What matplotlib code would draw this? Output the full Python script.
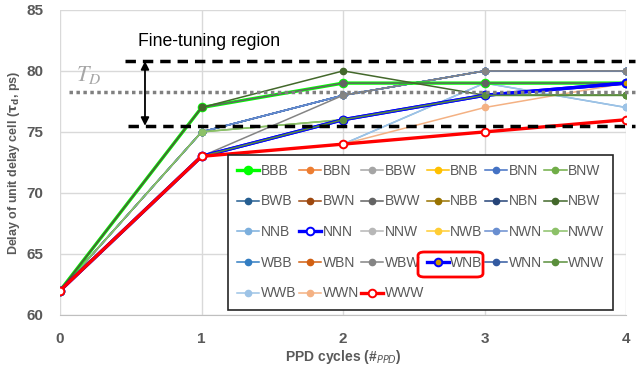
import matplotlib.pyplot as plt
from matplotlib.patches import FancyBboxPatch

# PPD cycles on the x axis
cycles = [0, 1, 2, 3, 4]

# legend order (row by row, as shown in the chart)
names = ['BBB', 'BBN', 'BBW', 'BNB', 'BNN', 'BNW',
         'BWB', 'BWN', 'BWW', 'NBB', 'NBN', 'NBW',
         'NNB', 'NNN', 'NNW', 'NWB', 'NWN', 'NWW',
         'WBB', 'WBN', 'WBW', 'WNB', 'WNN', 'WNW',
         'WWB', 'WWN', 'WWW']

colors = ['#00FF00', '#ED7D31', '#A5A5A5', '#FFC000', '#4472C4', '#70AD47',
          '#255E91', '#9E480E', '#636363', '#997300', '#264478', '#43682B',
          '#7CAFDD', '#0000FF', '#B7B7B7', '#FFCD33', '#698ED0', '#8CC168',
          '#327DC2', '#D26012', '#848484', '#0000FF', '#335AA1', '#5A8F3C',
          '#9DC3E6', '#F4B183', '#FF0000']

# delay of unit delay cell (ps) per series
delays = {
    'BBB': [62, 77, 79, 79, 79],
    'BBN': [62, 73, 74, 75, 76],
    'BBW': [62, 77, 79, 79, 79],
    'BNB': [62, 73, 76, 78, 79],
    'BNN': [62, 75, 78, 80, 80],
    'BNW': [62, 75, 76, 78, 78],
    'BWB': [62, 75, 78, 80, 80],
    'BWN': [62, 73, 74, 75, 76],
    'BWW': [62, 77, 79, 79, 79],
    'NBB': [62, 73, 76, 78, 79],
    'NBN': [62, 75, 78, 80, 80],
    'NBW': [62, 77, 80, 78, 78],
    'NNB': [62, 73, 74, 79, 77],
    'NNN': [62, 73, 76, 78, 79],
    'NNW': [62, 77, 79, 79, 79],
    'NWB': [62, 73, 76, 78, 79],
    'NWN': [62, 75, 78, 80, 80],
    'NWW': [62, 75, 76, 78, 78],
    'WBB': [62, 75, 78, 80, 80],
    'WBN': [62, 73, 74, 75, 76],
    'WBW': [62, 73, 78, 80, 80],
    'WNB': [62, 73, 76, 78, 79],
    'WNN': [62, 75, 78, 80, 80],
    'WNW': [62, 73, 76, 78, 78],
    'WWB': [62, 73, 74, 79, 77],
    'WWN': [62, 73, 74, 77, 79],
    'WWW': [62, 73, 74, 75, 76],
}

# drawing order so the visible ones end up on top
draw_order = ['BBN', 'BWN', 'WBN', 'BBW', 'NNW', 'BNB', 'NWB', 'NBB',
              'NNB', 'WWB', 'WWN', 'BWB', 'WBB', 'NBN', 'WNN', 'BNN', 'NWN',
              'BNW', 'NWW', 'WBW', 'BBB', 'BWW', 'NBW', 'NNN', 'WNB', 'WNW', 'WWW']

thick = {'BBB', 'NNN', 'WNB', 'WWW'}
text_gray = '#595959'

plt.rcParams['font.family'] = ['Liberation Sans', 'DejaVu Sans']
fig = plt.figure(figsize=(6.39, 3.65), dpi=100)
ax = fig.add_axes([0.094, 0.137, 0.886, 0.836])

lines = {}
for z, name in enumerate(draw_order):
    c = colors[names.index(name)]
    lw = 2.4 if name in thick else 1.1
    mfc = c
    if name in ('NNN', 'WWW'):
        mfc = 'white'
    if name == 'WNB':
        mfc = '#CC9A00'
    ms = 5.5 if name in thick else 4.5
    ln, = ax.plot(cycles, delays[name], color=c, lw=lw, marker='o', ms=ms,
                  mfc=mfc, mec=c, mew=1.4 if name in thick else 1,
                  label=name, zorder=3 + z * 0.01)
    lines[name] = ln

# reference lines and annotations
ax.plot([0.46, 4.06], [80.8, 80.8], color='black', lw=2.5, ls=(0, (3, 2)), zorder=5, clip_on=False)
ax.plot([0.48, 4.06], [75.5, 75.5], color='black', lw=2.5, ls=(0, (3, 2)), zorder=5, clip_on=False)
ax.plot([0.06, 4.06], [78.3, 78.3], color='#808080', lw=2.5, ls=(0, (1, 1)), zorder=5, clip_on=False)
ax.annotate('', xy=(0.6, 80.8), xytext=(0.6, 75.5),
            arrowprops=dict(arrowstyle='<|-|>', color='black', lw=1.3,
                            mutation_scale=12, shrinkA=0, shrinkB=0), zorder=6)
ax.text(0.55, 82.4, 'Fine-tuning region', fontsize=12.7, color='black', va='center', ha='left')
ax.text(0.11, 79.7, r'$T_D$', fontsize=16, color='#A6A6A6', va='center', ha='left',
        math_fontfamily='stix')

ax.set_xlim(0, 4)
ax.set_ylim(60, 85)
ax.set_xticks(cycles)
ax.set_yticks([60, 65, 70, 75, 80, 85])
ax.grid(True, color='#D9D9D9', lw=1)
ax.set_axisbelow(True)
for s in ['top', 'right', 'left']:
    ax.spines[s].set_visible(False)
ax.spines['bottom'].set_color('#BFBFBF')
ax.tick_params(length=0, labelsize=11, colors=text_gray)
ax.tick_params(axis='x', pad=12)
ax.tick_params(axis='y', pad=12)
for lab in ax.get_xticklabels() + ax.get_yticklabels():
    lab.set_fontweight('bold')

ax.set_xlabel(r'PPD cycles (#$_{PPD}$)', fontsize=10, fontweight='bold', color=text_gray, labelpad=2)
ax.set_ylabel(r'Delay of unit delay cell ($\mathbf{\tau_d}$, ps)', fontsize=9,
              fontweight='bold', color=text_gray, labelpad=3)

# legend filled row by row
ncol = 6
nrow = 5
handles = []
labels = []
for c in range(ncol):
    for r in range(nrow):
        i = r * ncol + c
        if i < len(names):
            handles.append(lines[names[i]])
            labels.append(names[i])
leg = ax.legend(handles, labels, ncol=ncol, loc='upper left',
                bbox_to_anchor=(0.297, 0.525, 0.68, 0.0), mode='expand',
                fontsize=10, frameon=True, fancybox=False, edgecolor='#262626',
                handlelength=1.6, handletextpad=0.1, columnspacing=0.3,
                labelspacing=1.2, borderpad=0.65, borderaxespad=0,
                labelcolor=text_gray, framealpha=1)
leg.get_frame().set_linewidth(1.2)
leg.set_zorder(10)

# red box round the WNB entry
box = FancyBboxPatch((418 / 639, 1 - 277 / 365), 65 / 639, 25 / 365,
                     boxstyle='round,pad=0,rounding_size=0.01',
                     transform=fig.transFigure, fill=False, ec='red', lw=2, zorder=20)
fig.patches.append(box)

plt.savefig('out.png', dpi=100)
